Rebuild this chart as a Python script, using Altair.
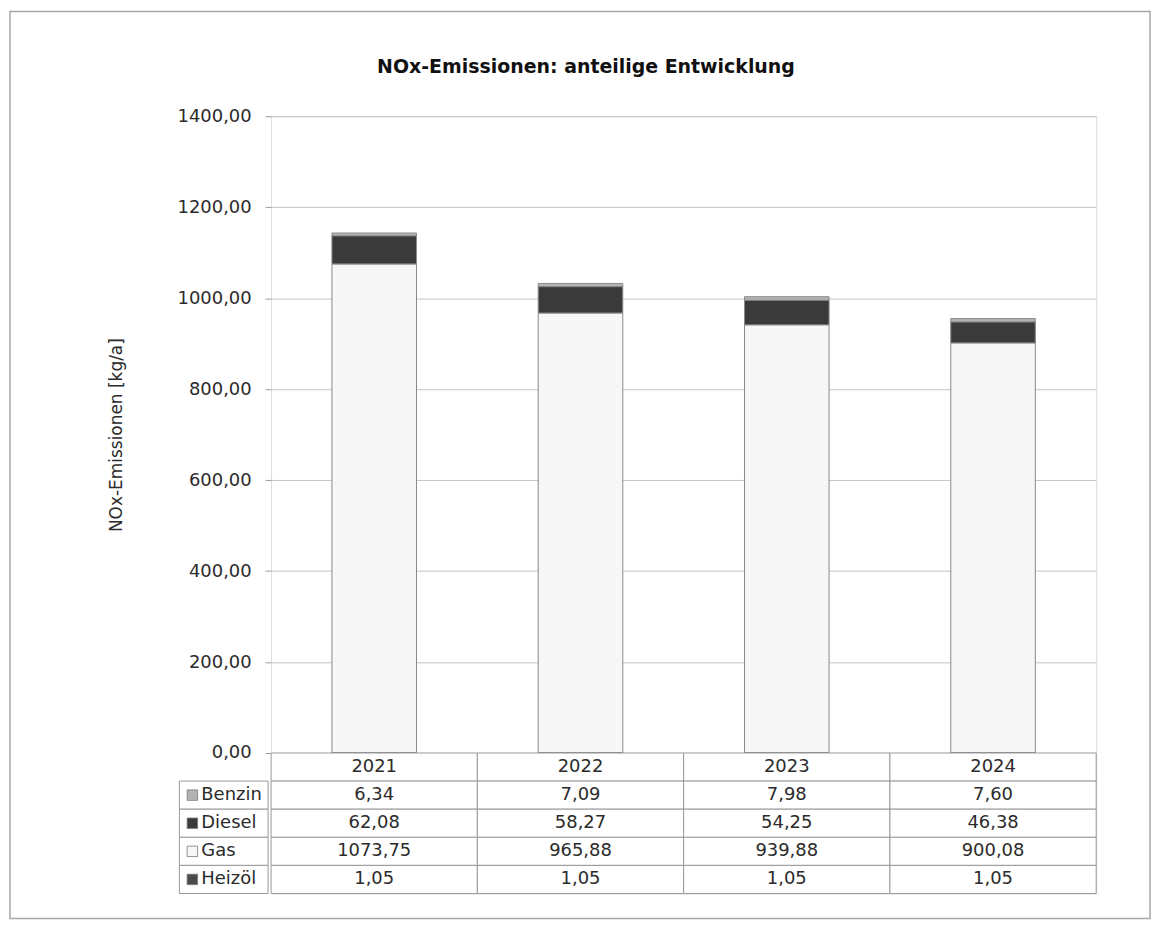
import altair as alt
import pandas as pd

# ---- data ----
years = ["2021", "2022", "2023", "2024"]
series = ["Benzin", "Diesel", "Gas", "Heizöl"]
benzin = [6.34, 7.09, 7.98, 7.60]
diesel = [62.08, 58.27, 54.25, 46.38]
gas = [1073.75, 965.88, 939.88, 900.08]
heizoel = [1.05, 1.05, 1.05, 1.05]
y_ticks = [0, 200, 400, 600, 800, 1000, 1200, 1400]
chart_title = "NOx-Emissionen: anteilige Entwicklung"

colors = ["#b4b4b4", "#3a3a3a", "#f7f7f7", "#4a4a4a"]
stack_rank = {"Heizöl": 0, "Gas": 1, "Diesel": 2, "Benzin": 3}

FONT = "DejaVu Sans"
TXT = "#2b2b2b"
LINE = "#9a9a9a"

rows = []
for s, vals in zip(series, [benzin, diesel, gas, heizoel]):
    for yr, v in zip(years, vals):
        rows.append({
            "year": yr, "series": s, "value": v,
            "text": f"{v:.2f}".replace(".", ","),
            "rank": stack_rank[s], "row": s,
        })
df = pd.DataFrame(rows)

header_df = pd.DataFrame({"year": years, "row": ["header"] * len(years), "text": years})
table_df = pd.concat([header_df, df[["year", "row", "text"]]], ignore_index=True)
label_df = pd.DataFrame({"row": series, "series": series})
frame_df = pd.DataFrame({"k": [0]})
title_df = pd.DataFrame({"t": [chart_title]})

color_scale = alt.Scale(domain=series, range=colors)

W, H = 828, 639
TH = 141

# ---- top: stacked bars ----
bars = alt.Chart(df).mark_bar(stroke="#8a8a8a", strokeWidth=1).encode(
    x=alt.X("year:N", sort=years,
            scale=alt.Scale(paddingInner=0.59, paddingOuter=0.295), axis=None),
    y=alt.Y("value:Q", stack="zero",
            scale=alt.Scale(domain=[0, 1400], nice=False),
            axis=alt.Axis(
                values=y_ticks,
                labelExpr="replace(format(datum.value, '.2f'), '.', ',')",
                labelFontSize=18, labelFont=FONT, labelColor=TXT,
                labelPadding=14, tickSize=6, tickColor=LINE,
                domain=False, grid=True, gridColor="#c4c4c4",
                title="NOx-Emissionen [kg/a]", titleFont=FONT,
                titleFontSize=17, titleFontWeight="normal", titleColor=TXT,
                titleAngle=270, titleX=-150, titleY=H / 2,
                titleAlign="center", titleBaseline="alphabetic",
            )),
    color=alt.Color("series:N", scale=color_scale, legend=None),
    order=alt.Order("rank:Q", sort="ascending"),
)

frame = alt.Chart(frame_df).mark_rect(
    fillOpacity=0, stroke="#a8a8a8", strokeWidth=1.5
).encode(
    x=alt.value(-262), x2=alt.value(882),
    y=alt.value(-105), y2=alt.value(805),
)

title = alt.Chart(title_df).mark_text(
    font=FONT, fontSize=19, fontWeight="bold", color="#111111",
    align="center", baseline="alphabetic",
).encode(x=alt.value(316), y=alt.value(-43), text="t:N")

top = alt.layer(frame, title, bars).properties(width=W, height=H)

# ---- bottom: data table ----
row_dom = ["header"] + series
xs = alt.X("year:N", scale=alt.Scale(domain=years, paddingInner=0, paddingOuter=0), axis=None)
ys = alt.Y("row:N", scale=alt.Scale(domain=row_dom, paddingInner=0, paddingOuter=0), axis=None)

cells = alt.Chart(table_df).mark_rect(fill="white", stroke=LINE, strokeWidth=1).encode(x=xs, y=ys)
values = alt.Chart(table_df).mark_text(font=FONT, fontSize=18, color=TXT).encode(
    x=xs, y=ys, text="text:N")

label_cells = alt.Chart(label_df).mark_rect(fill="white", stroke=LINE, strokeWidth=1).encode(
    x=alt.value(-92), x2=alt.value(-3), y=ys)
squares = alt.Chart(label_df).mark_point(
    shape="square", filled=True, size=110, stroke="#7a7a7a", strokeWidth=0.8, opacity=1
).encode(
    x=alt.value(-79), y=ys,
    color=alt.Color("series:N", scale=color_scale, legend=None),
)
labels = alt.Chart(label_df).mark_text(
    font=FONT, fontSize=18, color=TXT, align="left"
).encode(x=alt.value(-70), y=ys, text="row:N")

bottom = alt.layer(cells, values, label_cells, squares, labels).properties(width=W, height=TH)

chart = alt.vconcat(top, bottom, spacing=0, bounds="flush").properties(
    padding=0
).configure_view(stroke="#8c8c8c").configure(background="white")

chart.save("out.html", embed_options={"renderer": "svg", "actions": False})
